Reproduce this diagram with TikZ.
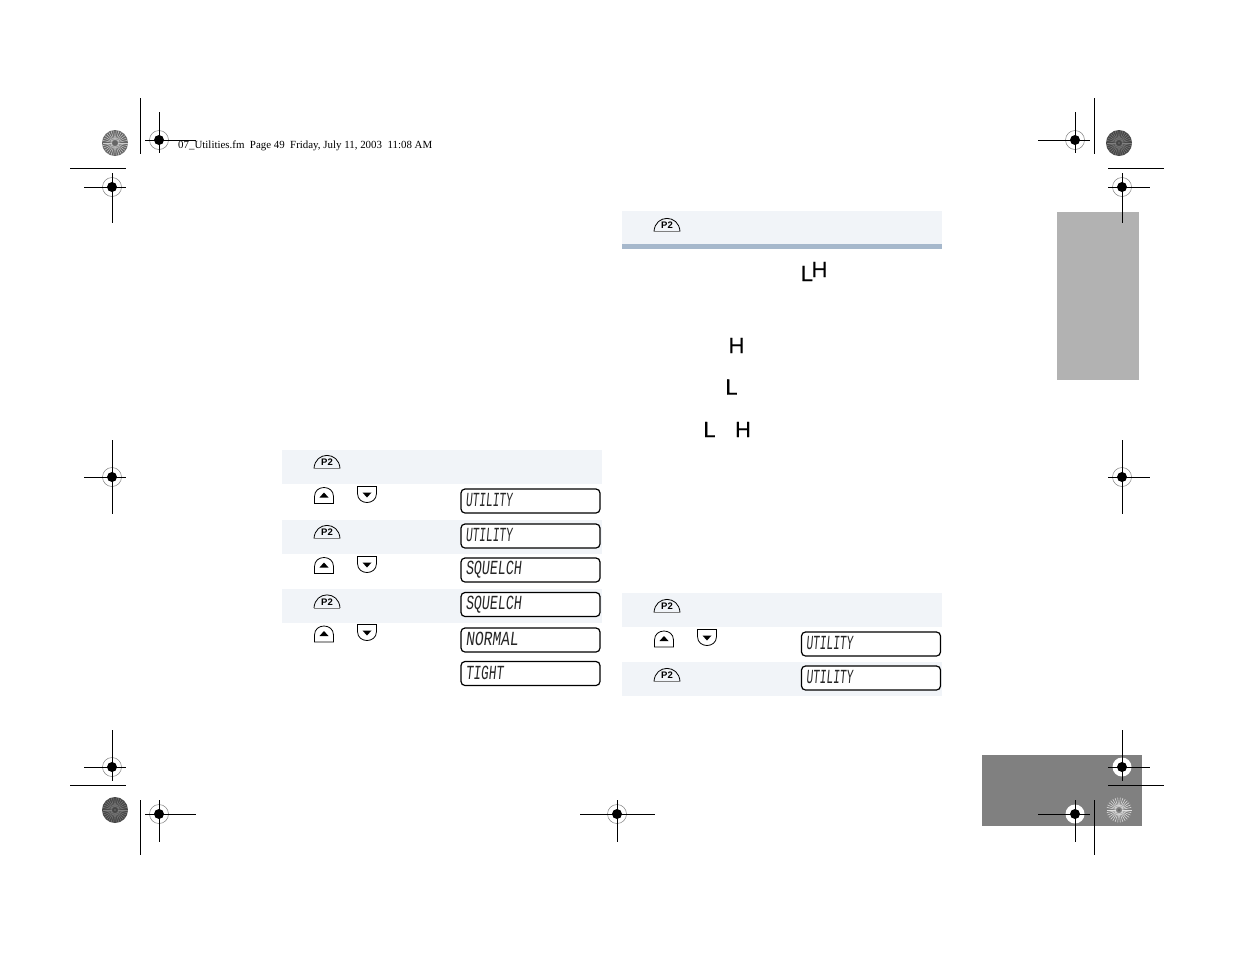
\documentclass[tikz,border=0pt]{standalone}
\usepackage{fontspec}
\usepackage{graphicx}
\usepackage{tikz}
\setmainfont{Liberation Serif}
\setsansfont{Liberation Sans}
\newfontfamily\lcdfont[FakeSlant=0.1,FakeStretch=0.62]{Liberation Mono}
\newfontfamily\letterfont[FakeBold=0.6]{Liberation Sans}
\usetikzlibrary{calc, positioning}
\definecolor{rowtint}{RGB}{241,244,248}
\definecolor{rulebar}{RGB}{166,184,204}
\definecolor{tabgrey}{RGB}{178,178,178}
\definecolor{cornergrey}{RGB}{128,128,128}

\begin{document}
\begin{tikzpicture}[
    x=1pt, y=-1pt,
    rowband/.style={fill=rowtint, draw=none, minimum width=320, minimum height=34, inner sep=0},
    lcdbox/.style={draw, fill=white, rounded corners=4, line width=1.2pt, minimum width=139, minimum height=24, inner xsep=4.5, inner ysep=0, text width=130, align=left, text=black!85, font=\lcdfont\fontsize{20}{20}\selectfont},
    keylabel/.style={font=\sffamily\bfseries\fontsize{9.5}{9.5}\selectfont, inner sep=0},
    bigletter/.style={font=\letterfont\fontsize{22}{22}\selectfont, inner sep=0},
    keyline/.style={line width=0.8pt},
    cropline/.style={line width=0.9pt}
]
    \useasboundingbox (0,0) rectangle (1235,954);

    % Grey tabs on the page edge
    \node[fill=tabgrey, minimum width=82, minimum height=168, inner sep=0] (sidetab) at (1098,296) {};
    \node[fill=cornergrey, minimum width=160, minimum height=71, inner sep=0] (cornertab) at (1062,790.5) {};

    % Shaded table rows
    \foreach \x/\y [count=\i] in {442/467, 442/537, 442/606, 782/228, 782/610, 782/679} {
        \node[rowband] (row\i) at (\x,\y) {};
    }
    \node[fill=rulebar, minimum width=320, minimum height=5, inner sep=0] (rowrule) at (782,246.5) {};

    % P2 keys
    \foreach \x/\y [count=\i] in {327/462, 327/532, 327/601.5, 667/225, 667/606, 667/675} {
        \draw[keyline] (\x-13,\y+6.5) .. controls (\x-12,\y-11) and (\x+12,\y-11) .. (\x+13,\y+6.5);
        \draw[gray, line width=0.5pt] (\x-13,\y+6.5) -- (\x+13,\y+6.5);
        \node[keylabel] (ptwo\i) at (\x,\y+0.5) {P2};
    }

    % Up keys
    \foreach \x/\y in {324/495.5, 324/565.5, 324/634, 664/639} {
        \draw[keyline, fill=white] (\x-9.5,\y+8) -- (\x-9.5,\y+1) .. controls (\x-9.5,\y-11) and (\x+9.5,\y-11) .. (\x+9.5,\y+1) -- (\x+9.5,\y+8) -- cycle;
        \fill (\x-4.5,\y+2) -- (\x+4.5,\y+2) -- (\x,\y-3) -- cycle;
    }

    % Down keys
    \foreach \x/\y in {367/494.5, 367/564.5, 367/632.5, 707/637.5} {
        \draw[keyline, fill=white] (\x-9.5,\y-8) -- (\x-9.5,\y-1) .. controls (\x-9.5,\y+11) and (\x+9.5,\y+11) .. (\x+9.5,\y-1) -- (\x+9.5,\y-8) -- cycle;
        \fill (\x-4.5,\y-2) -- (\x+4.5,\y-2) -- (\x,\y+3) -- cycle;
    }

    % Display boxes
    \foreach \x/\y/\sx/\word [count=\i] in {530.5/501/0.9/UTILITY, 530.5/536/0.9/UTILITY, 530.5/570/1.07/SQUELCH, 530.5/604.5/1.07/SQUELCH, 530.5/640/1.18/NORMAL, 530.5/673.5/1.02/TIGHT, 871/644/0.9/UTILITY, 871/678/0.9/UTILITY} {
        \node[lcdbox] (lcd\i) at (\x,\y) {\raisebox{1.5pt}{\scalebox{\sx}[1]{\word}}};
    }

    % Letters beside the right table
    \node[bigletter, anchor=base west] (lowhigh) at (800.5,281) {L\kern-1.4pt\raisebox{4pt}{H}};
    \node[bigletter] (highB) at (736.5,345.5) {H};
    \node[bigletter] (lowB) at (731.5,387) {L};
    \node[bigletter] (lowC) at (709.5,429.5) {L};
    \node[bigletter] (highC) at (743,429.5) {H};

    % Running header
    \node[anchor=west, inner sep=0, font=\fontsize{10.9}{12}\selectfont] (header) at (178,145.5) {07\_Utilities.fm~~Page 49~~Friday, July 11, 2003~~11:08 AM};

    % Colour discs
    \foreach \x/\y/\base/\spoke/\sw in {115/143/black!60/black!20/0.5, 1119/143/black!72/black!50/0.45, 115/810/black!72/black!50/0.45, 1119/810/gray/black!12/0.55} {
        \fill[\base] (\x,\y) circle (13);
        \foreach \a in {0,12,...,348} {
            \draw[\spoke, line width=\sw pt] ($(\x,\y)+(\a:3)$) -- ($(\x,\y)+(\a:12.5)$);
        }
        \fill[black!60] (\x,\y) circle (1.2);
    }

    % Registration marks: centre, then left, right, top and bottom ends
    \foreach \x/\y/\l/\r/\t/\b in {159/140/145/196/112/153, 1075/140/1038/1090/112/153, 112/187/84/126/173/223, 1122/187/1108/1150/173/223,
        112/477/84/126/440/514, 1122/477/1108/1150/440/514, 112/767/84/126/730/781, 159/814/145/196/800/842, 617/814/580/655/800/842} {
        \draw[gray, line width=0.5pt] (\x,\y) circle (9.5);
        \fill (\x,\y) circle (5);
        \draw[cropline] (\l,\y) -- (\r,\y);
        \draw[cropline] (\x,\t) -- (\x,\b);
    }
    % The two marks on the grey corner have a white ground
    \foreach \x/\y/\l/\r/\t/\b in {1122/767/1108/1150/730/781, 1075/814/1038/1090/800/842} {
        \fill[white] (\x,\y) circle (9.5);
        \fill (\x,\y) circle (5);
        \draw[cropline] (\l,\y) -- (\r,\y);
        \draw[cropline] (\x,\t) -- (\x,\b);
    }

    % Crop lines
    \foreach \x/\t/\b in {140.5/98/154, 1094/98/154, 140.5/800/855, 1094/800/855} {
        \draw[cropline] (\x,\t) -- (\x,\b);
    }
    \foreach \y/\l/\r in {168/70/126, 168/1108/1164, 785/70/126, 785/1108/1164} {
        \draw[cropline] (\l,\y) -- (\r,\y);
    }

\end{tikzpicture}
\end{document}
